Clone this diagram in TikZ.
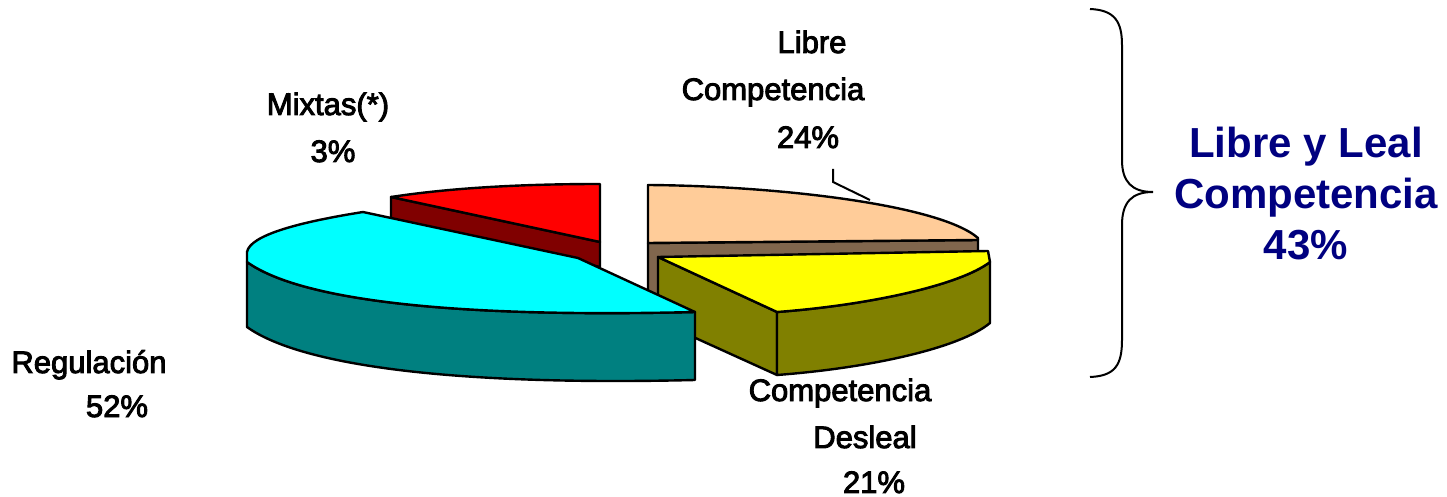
\documentclass[tikz,border=0pt]{standalone}
\usepackage{fontspec}
\setmainfont{Liberation Sans}
\newfontfamily\piefont[FakeBold=3]{Liberation Sans}
\definecolor{peach}{RGB}{255,204,153}
\definecolor{peachside}{RGB}{128,102,77}
\definecolor{redfill}{RGB}{255,0,0}
\definecolor{darkred}{RGB}{128,0,0}
\definecolor{yellowfill}{RGB}{255,255,0}
\definecolor{olivefill}{RGB}{128,128,0}
\definecolor{cyanfill}{RGB}{0,255,255}
\definecolor{tealfill}{RGB}{0,128,128}
\definecolor{navytext}{RGB}{0,0,128}
\tikzstyle{face} = [draw=black, line width=1.2pt, line join=round]
\tikzstyle{pietext} = [anchor=base, inner sep=0pt, font=\piefont\fontsize{15.5}{18}\selectfont]
\tikzstyle{sumtext} = [align=center, text=navytext, font=\fontsize{21}{25.5}\selectfont\bfseries]

\begin{document}
\begin{tikzpicture}[x=0.5pt, y=-0.5pt]
\useasboundingbox (0,0) rectangle (1447,497);

% Libre Competencia (back)
\fill [peachside, face] (648,243) -- (978,240) -- (978,300) -- (648,303) -- cycle;
\fill [peach, face] (648,185) .. controls (780,186) and (940,205) .. (978,238) -- (978,240) -- (648,243) -- cycle;

% Mixtas
\fill [darkred, face] (391,197) -- (600,242) -- (600,267) -- (391,222) -- cycle;
\fill [redfill, face] (391,197) .. controls (450,188) and (520,184) .. (600,184) -- (600,242) -- cycle;

% Competencia Desleal
\fill [olivefill, face] (658,257) -- (777,312) -- (777,375) -- (658,321) -- cycle;
\fill [olivefill, face] (777,312) .. controls (870,305) and (960,285) .. (990,262) -- (990,323) .. controls (960,348) and (870,368) .. (777,375) -- cycle;
\fill [yellowfill, face] (658,257) -- (988,251) -- (990,262) .. controls (960,285) and (870,305) .. (777,312) -- cycle;

% Regulacion (front)
\fill [tealfill, face] (247,262) .. controls (300,300) and (450,318) .. (695,312) -- (695,380) .. controls (450,386) and (300,365) .. (247,327) -- cycle;
\fill [cyanfill, face] (578,258) -- (363,212) .. controls (300,222) and (250,235) .. (247,252) -- (247,262) .. controls (300,300) and (450,318) .. (695,312) -- cycle;

% labels
\node [pietext] (mix) at (328,115) {Mixtas(*)};
\node [pietext] (mixp) at (333,162) {3\%};
\node [pietext] (lib) at (812,53) {Libre};
\node [pietext] (libc) at (773,100) {Competencia};
\node [pietext] (libp) at (808,148) {24\%};
\node [pietext] (reg) at (89,373) {Regulación};
\node [pietext] (regp) at (117,417) {52\%};
\node [pietext] (des) at (840,401) {Competencia};
\node [pietext] (desd) at (865,448) {Desleal};
\node [pietext] (desp) at (874,493) {21\%};

\coordinate (lead1) at (833,169);
\coordinate (lead2) at (833,182);
\coordinate (lead3) at (870,200);
\draw [line width=1pt] (lead1) -- (lead2) -- (lead3);

% brace and total
\draw [line width=1pt] (1090,9) .. controls (1115,10) and (1122,22) .. (1122,45) -- (1122,160)
  .. controls (1122,182) and (1132,192) .. (1153,192)
  .. controls (1132,192) and (1122,202) .. (1122,225) -- (1122,340)
  .. controls (1122,365) and (1115,376) .. (1090,377);
\node [sumtext] (total) at (1306,194) {Libre y Leal\\Competencia\\43\%};
\end{tikzpicture}
\end{document}
